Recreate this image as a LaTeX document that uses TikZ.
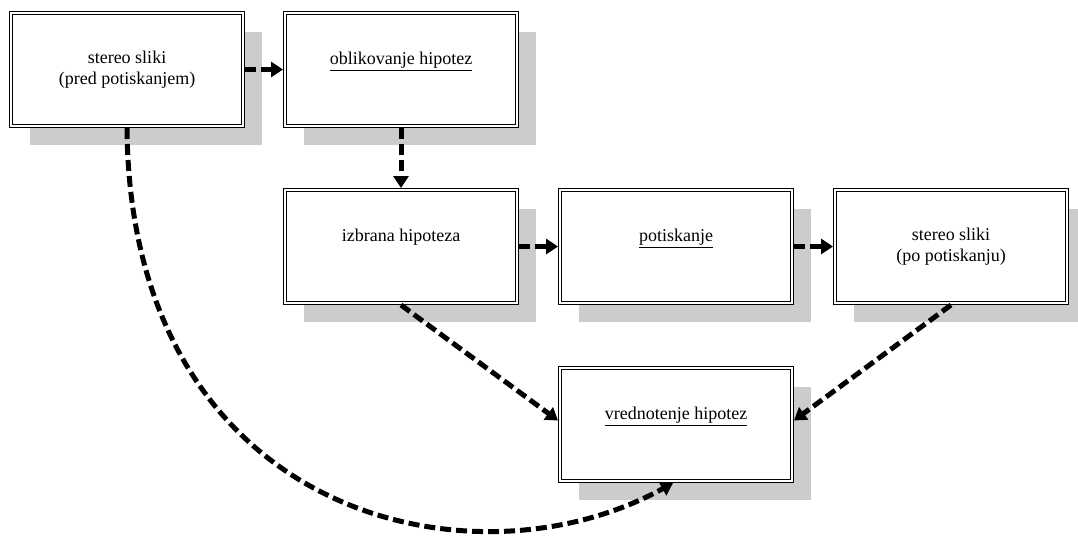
\documentclass[tikz,border=0pt]{standalone}
\usepackage{fontspec}
\setmainfont{Liberation Serif}
\usetikzlibrary{arrows.meta,shadows,calc}
\tikzset{
  stagebox/.style={draw=black, double=white, double distance=2pt, line width=1.2pt,
    fill=white, minimum width=231.6pt, minimum height=112.6pt, outer sep=2.2pt,
    align=center, font=\fontsize{18}{21}\selectfont,
    drop shadow={shadow xshift=19pt, shadow yshift=-19pt, fill=black!20, opacity=1}},
  oneline/.style={text depth=22pt},
  flow/.style={line width=5pt, dash pattern=on 11pt off 5pt, draw=black,
    -{Triangle[length=12pt,width=15pt]}}
}
\begin{document}
\begin{tikzpicture}[x=1pt,y=-1pt]
\useasboundingbox (0,0) rectangle (1078,539);
\node[stagebox] (b1) at (127,69.5) {stereo sliki\\(pred potiskanjem)};
\node[stagebox,oneline] (b2) at (401,69.5) {\underline{oblikovanje hipotez}};
\node[stagebox,oneline] (b3) at (401,246.5) {izbrana hipoteza};
\node[stagebox,oneline] (b4) at (676,246.5) {\underline{potiskanje}};
\node[stagebox] (b5) at (951,246.5) {stereo sliki\\(po potiskanju)};
\node[stagebox,oneline] (b6) at (676,424.5) {\underline{vrednotenje hipotez}};
\coordinate (c6l) at ($(b6.west)+(0,-4)$);
\coordinate (c6r) at ($(b6.east)+(0,-4)$);
\coordinate (c6b) at ($(b6.south)+(-3,0)$);
\draw[flow] (b1.east) -- (b2.west);
\draw[flow] (b2.south) -- (b3.north);
\draw[flow] (b3.east) -- (b4.west);
\draw[flow] (b4.east) -- (b5.west);
\draw[flow] (b3.south) -- (c6l);
\draw[flow] (b5.south) -- (c6r);
\draw[flow] (b1.south) .. controls (130,515) and (470,595) .. (c6b);
\end{tikzpicture}
\end{document}
